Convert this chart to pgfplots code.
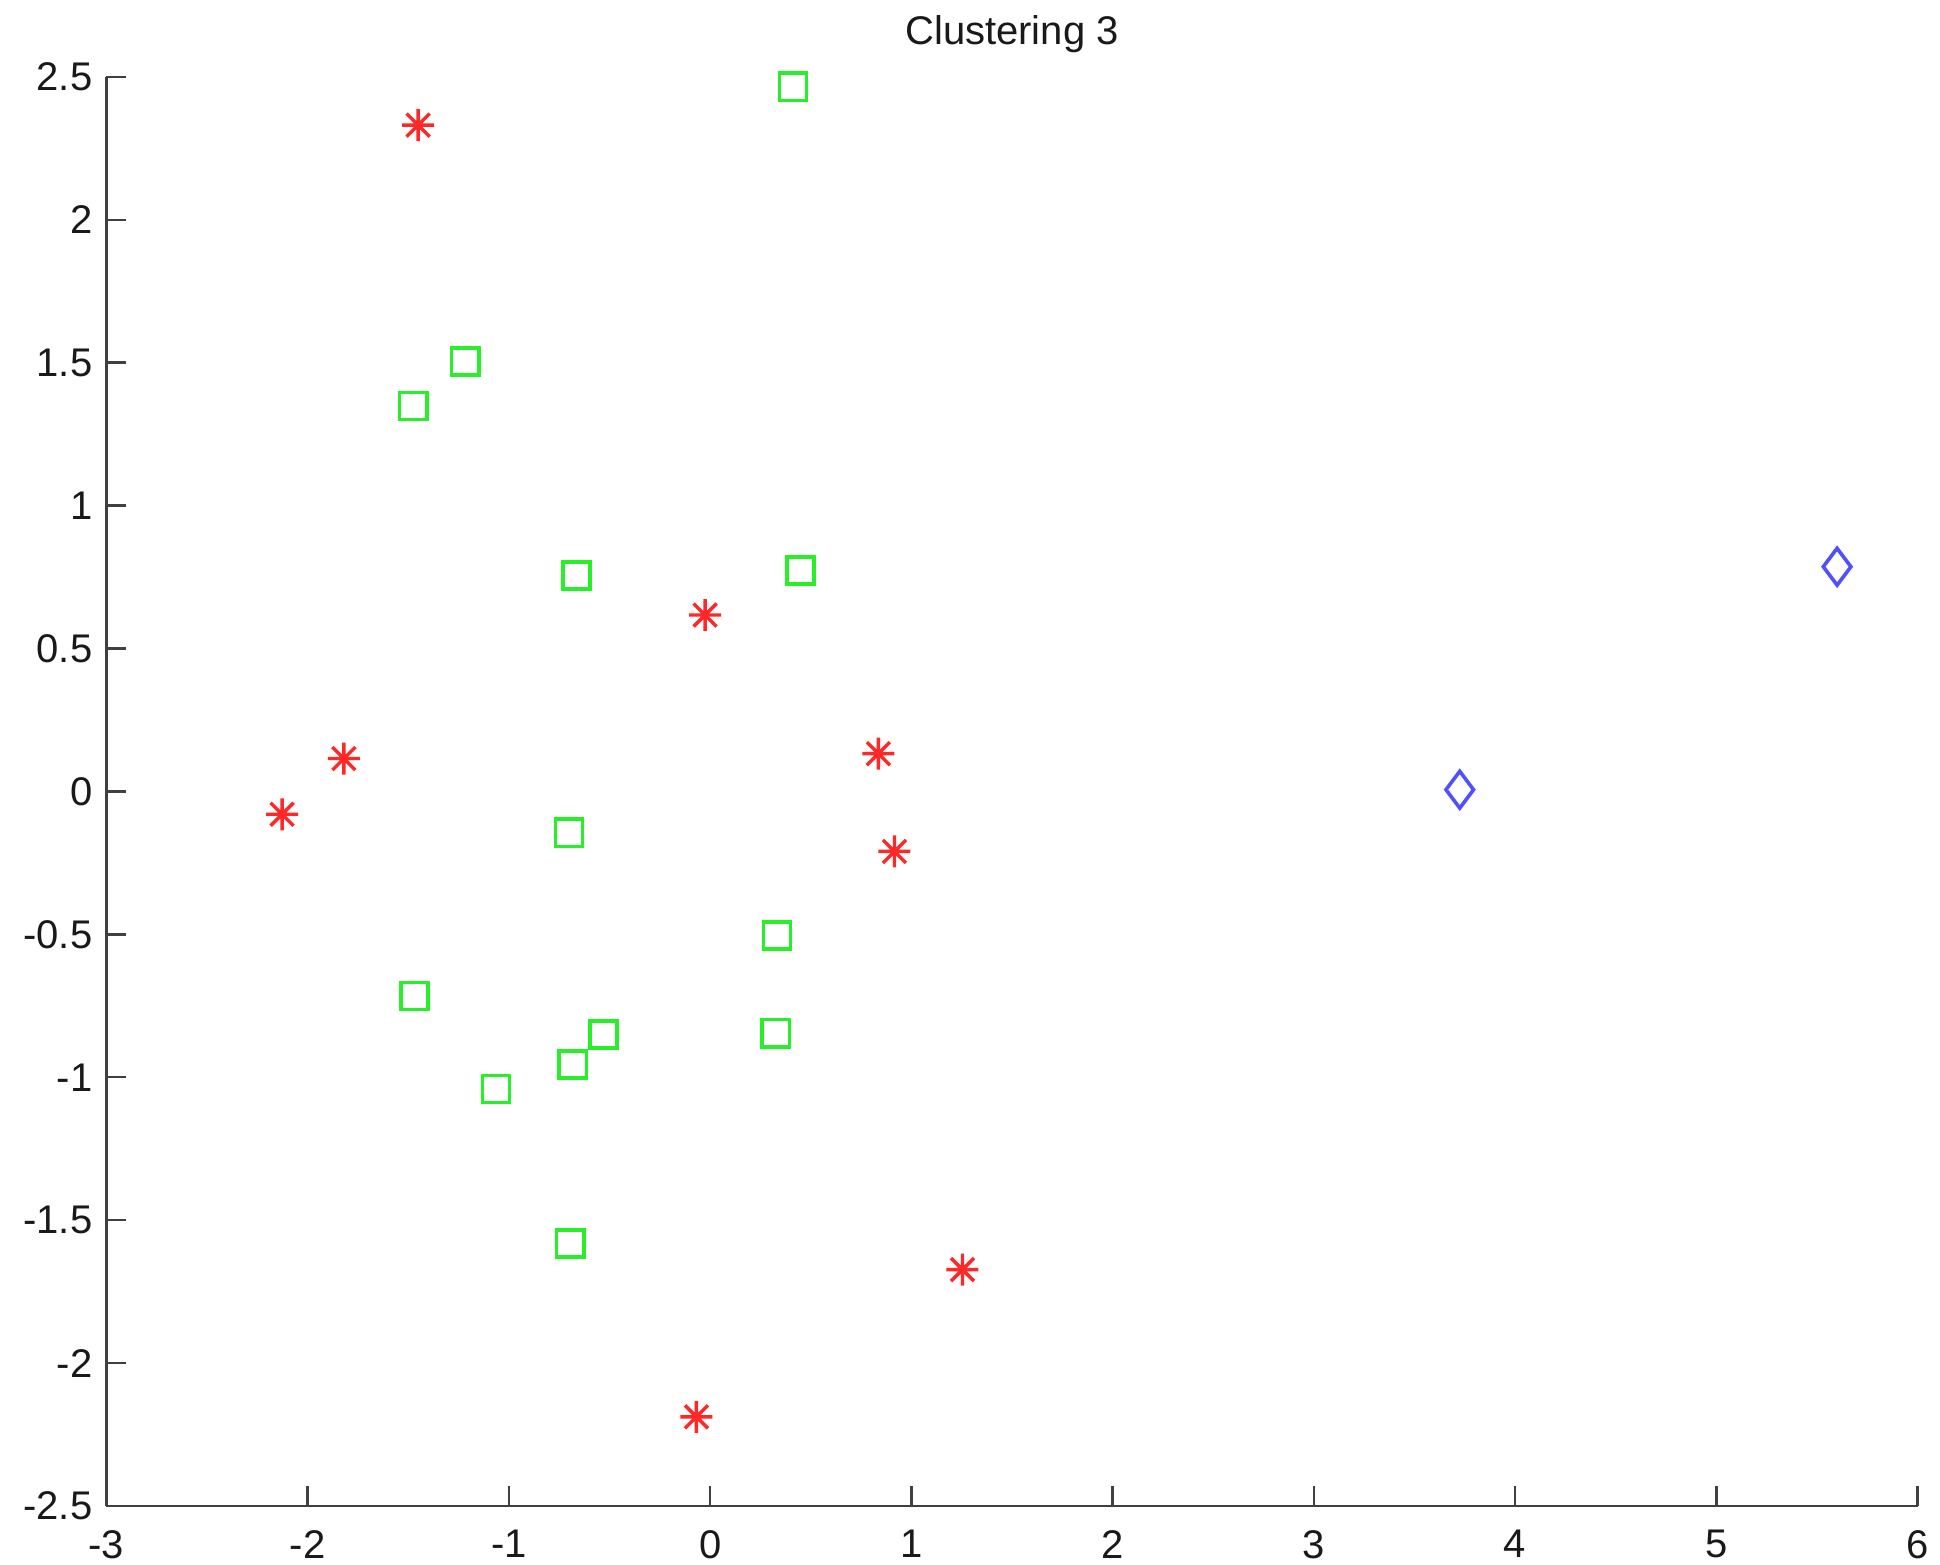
\documentclass[border=0pt]{standalone}
\usepackage{fontspec}
\setmainfont{Liberation Sans}
\usepackage{pgfplots}
\pgfplotsset{compat=1.18}
\definecolor{mred}{RGB}{255,40,40}
\definecolor{mgreen}{RGB}{40,240,40}
\definecolor{mblue}{RGB}{80,80,255}
\pgfdeclareplotmark{mstar}{%
 \pgfpathmoveto{\pgfqpoint{-\pgfplotmarksize}{0pt}}\pgfpathlineto{\pgfqpoint{\pgfplotmarksize}{0pt}}%
 \pgfpathmoveto{\pgfqpoint{0pt}{-\pgfplotmarksize}}\pgfpathlineto{\pgfqpoint{0pt}{\pgfplotmarksize}}%
 \pgfpathmoveto{\pgfqpoint{-.72\pgfplotmarksize}{-.72\pgfplotmarksize}}\pgfpathlineto{\pgfqpoint{.72\pgfplotmarksize}{.72\pgfplotmarksize}}%
 \pgfpathmoveto{\pgfqpoint{-.72\pgfplotmarksize}{.72\pgfplotmarksize}}\pgfpathlineto{\pgfqpoint{.72\pgfplotmarksize}{-.72\pgfplotmarksize}}%
 \pgfusepathqstroke}
\begin{document}
\begin{tikzpicture}
\begin{axis}[
  scale only axis,
  width=452.8pt, height=357.3pt,
  xmin=-3, xmax=6, ymin=-2.5, ymax=2.5,
  axis x line*=bottom, axis y line*=left,
  axis line style={black!75, line width=0.6pt},
  tick style={black!75, line width=0.6pt},
  tick align=inside,
  major tick length=5pt,
  xtick={-3,-2,-1,0,1,2,3,4,5,6},
  xticklabels={-3,-2,-1,0,1,2,3,4,5,6},
  ytick={-2.5,-2,-1.5,-1,-0.5,0,0.5,1,1.5,2,2.5},
  yticklabels={-2.5,-2,-1.5,-1,-0.5,0,0.5,1,1.5,2,2.5},
  tick label style={font=\fontsize{10}{12}\selectfont, text=black!90},
  xticklabel style={yshift=-2.5pt},
  title={Clustering 3},
  title style={font=\fontsize{10}{12}\selectfont, text=black!90, yshift=-3.5pt},
  clip=false,
]
\addplot[only marks, mark=mstar, mark size=4pt, mred, line width=0.85pt] coordinates {
(-1.451,2.331) (-0.025,0.617) (-1.820,0.115) (-2.127,-0.080)
(0.836,0.132) (0.916,-0.210) (1.254,-1.673) (-0.068,-2.188)
};
\addplot[only marks, mark=square, mark size=3.4pt, mgreen, line width=0.9pt] coordinates {
(0.412,2.465) (-1.217,1.504) (-1.475,1.348) (-0.664,0.755) (0.449,0.773)
(-0.701,-0.145) (0.332,-0.504) (-1.469,-0.716) (-0.529,-0.851) (0.326,-0.846)
(-0.682,-0.955) (-1.064,-1.041) (-0.695,-1.582)
};
\addplot[only marks, mark=diamond, mark size=4.6pt, mblue, line width=0.9pt] coordinates {
(3.725,0.006) (5.600,0.786)
};
\end{axis}
\pgfresetboundingbox
\path ([shift={(-26.6pt,-14.5pt)}]current axis.south west) rectangle ([shift={(5.6pt,19.2pt)}]current axis.north east);
\end{tikzpicture}
\end{document}
